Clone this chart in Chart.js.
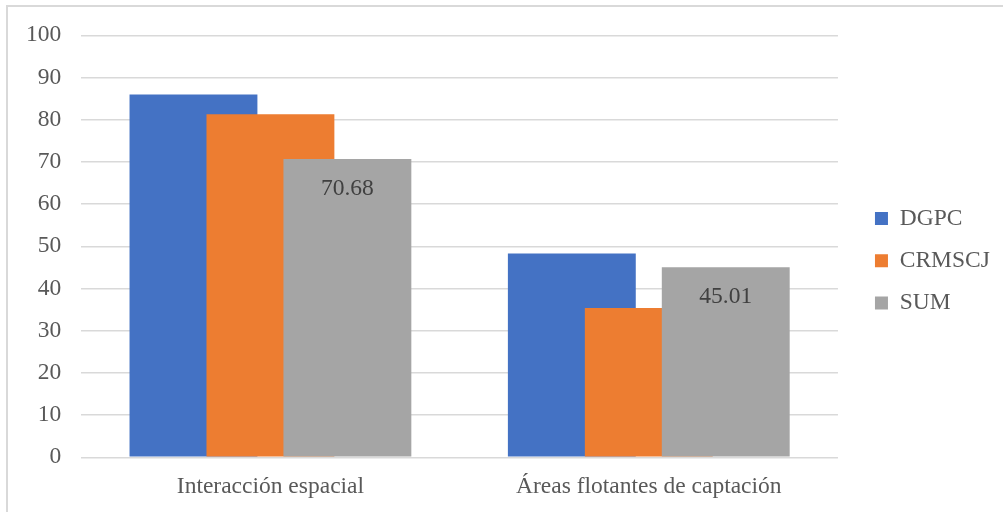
<!DOCTYPE html>
<html>
<head>
<meta charset="utf-8">
<script src="https://cdn.jsdelivr.net/npm/chart.js@4.4.1/dist/chart.umd.min.js"></script>
<style>
  html, body { margin: 0; padding: 0; background: #ffffff; }
  #wrap { position: relative; width: 1003px; height: 512px; overflow: hidden; background: #ffffff; }
  #frame {
    position: absolute; left: 6px; top: 5px; width: 1100px; height: 600px;
    border-left: 2px solid #d9d9d9; border-top: 2px solid #d9d9d9; box-sizing: border-box;
  }
  #c { position: absolute; left: 0; top: 0; }
</style>
</head>
<body>
<div id="wrap">
  <div id="frame"></div>
  <canvas id="c" width="1003" height="512"></canvas>
</div>
<script>
// Categories, series and axis ticks
const categories = ['Interacción espacial', 'Áreas flotantes de captación'];
const seriesNames = ['DGPC', 'CRMSCJ', 'SUM'];
const dgpcValues = [86.0, 48.3];
const crmscjValues = [81.3, 35.4];
const sumValues = [70.68, 45.01];
const yTickValues = [0, 10, 20, 30, 40, 50, 60, 70, 80, 90, 100];

const seriesColors = ['#4472C4', '#ED7D31', '#A5A5A5'];
const textColor = '#595959';
const gridColor = '#d9d9d9';
const fontFamily = "'Liberation Serif', 'Times New Roman', serif";
const fontSize = 23.5;

// Overlapping bars: each series sits on its own hidden linear axis,
// shifted by a fraction of a category width.
const shift = 0.2034;
const shifts = [-shift, 0, shift];
const axisIds = ['xb', 'xo', 'xg'];

Chart.defaults.font.family = fontFamily;
Chart.defaults.font.size = fontSize;
Chart.defaults.color = textColor;

const seriesValues = [dgpcValues, crmscjValues, sumValues];
const datasets = seriesNames.map((name, k) => ({
  label: name,
  data: seriesValues[k].map((v, i) => ({ x: i, y: v })),
  backgroundColor: seriesColors[k],
  borderWidth: 0,
  xAxisID: axisIds[k],
  yAxisID: 'y',
  order: seriesNames.length - k,
  grouped: false,
  barPercentage: 0.338,
  categoryPercentage: 1
}));

function shiftedAxis(s) {
  return {
    type: 'linear',
    axis: 'x',
    display: false,
    offset: false,
    bounds: 'data',
    min: -0.5 - s,
    max: categories.length - 0.5 - s,
    afterBuildTicks: (scale) => {
      scale.ticks = categories.map((_, i) => ({ value: i }));
    }
  };
}

// Empty spacer axis: reserves a fixed band without drawing anything
function spacerAxis(axis, position, size) {
  return {
    type: 'linear',
    axis: axis,
    position: position,
    offset: false,
    grid: { display: false },
    border: { display: false },
    ticks: { display: false },
    afterFit: (scale) => {
      if (axis === 'x') scale.height = size; else scale.width = size;
      scale.paddingTop = 0; scale.paddingBottom = 0;
      scale.paddingLeft = 0; scale.paddingRight = 0;
    }
  };
}

// Value labels inside the SUM bars
const sumLabels = {
  id: 'sumLabels',
  afterDatasetsDraw(chart) {
    const idx = seriesNames.indexOf('SUM');
    const meta = chart.getDatasetMeta(idx);
    const ctx = chart.ctx;
    ctx.save();
    ctx.font = fontSize + 'px ' + fontFamily;
    ctx.fillStyle = '#404040';
    ctx.textAlign = 'center';
    ctx.textBaseline = 'alphabetic';
    meta.data.forEach((bar, i) => {
      ctx.fillText(sumValues[i].toFixed(2), bar.x, bar.y + 35.7);
    });
    ctx.restore();
  }
};

new Chart(document.getElementById('c'), {
  type: 'bar',
  data: { labels: categories, datasets },
  options: {
    responsive: false,
    animation: false,
    devicePixelRatio: 1,
    layout: { padding: { left: 26.25, right: 3.15, top: 20.9, bottom: 11.5 } },
    scales: {
      x: {
        type: 'category',
        offset: true,
        grid: { display: false, drawTicks: false },
        border: { display: false },
        ticks: { color: textColor, padding: 15, font: { size: fontSize } },
        afterFit: (scale) => { scale.height = 43.2; scale.paddingLeft = 0; scale.paddingRight = 0; }
      },
      xb: shiftedAxis(shifts[0]),
      xo: shiftedAxis(shifts[1]),
      xg: shiftedAxis(shifts[2]),
      y: {
        type: 'linear',
        position: 'left',
        min: yTickValues[0],
        max: yTickValues[yTickValues.length - 1],
        afterBuildTicks: (scale) => { scale.ticks = yTickValues.map(v => ({ value: v })); },
        grid: { color: gridColor, lineWidth: 1.5, drawTicks: false },
        border: { display: false },
        ticks: { color: textColor, padding: 20, font: { size: fontSize } },
        afterFit: (scale) => { scale.width = 55; scale.paddingTop = 0; scale.paddingBottom = 0; }
      },
      topGap: spacerAxis('x', 'top', 14.4),
      rightGap: spacerAxis('y', 'right', 18.2)
    },
    plugins: {
      legend: {
        position: 'right',
        align: 'center',
        labels: {
          boxWidth: 13,
          boxHeight: 13,
          padding: 18.8,
          color: textColor,
          font: { size: fontSize },
          sort: (a, b) => a.datasetIndex - b.datasetIndex
        }
      },
      tooltip: { enabled: false },
      title: { display: false }
    }
  },
  plugins: [sumLabels]
});
</script>
</body>
</html>
